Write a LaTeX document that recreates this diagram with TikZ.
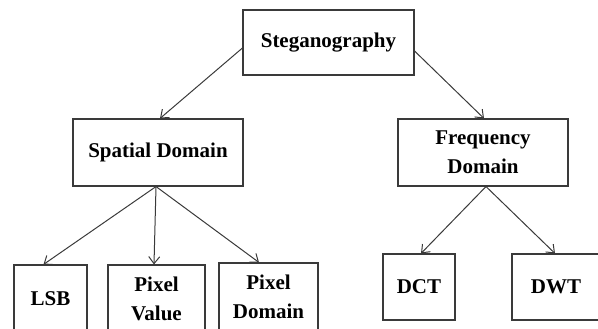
\documentclass[tikz,border=0pt]{standalone}
\usepackage{fontspec}
\setmainfont{Liberation Serif}
\usetikzlibrary{arrows.meta}
\definecolor{linegray}{HTML}{3A3A3A}
\tikzset{
  box/.style={draw=linegray, line width=1.1pt, rectangle, inner sep=0pt, align=center,
    font=\bfseries\fontsize{21}{29}\selectfont, text=black},
  link/.style={draw=linegray, line width=1pt, -{Straight Barb[length=7pt,width=11pt]}}
}
\begin{document}
\begin{tikzpicture}[x=1pt,y=-1pt]
\useasboundingbox (0,0) rectangle (598,329);
\clip (0,0) rectangle (598,329);
\node[box, minimum width=171pt, minimum height=65pt] (steg) at (328.5,42.5) {Steganography};
\node[box, minimum width=170pt, minimum height=67pt] (spatial) at (158,152.5) {Spatial Domain};
\node[box, minimum width=170pt, minimum height=67pt] (freq) at (483,152.5) {Frequency\\Domain};
\node[box, minimum width=73pt, minimum height=67pt] (lsb) at (50.5,298.5) {LSB};
\node[box, minimum width=97pt, minimum height=67pt] (pv) at (156.5,298.5) {Pixel\\Value};
\node[box, minimum width=99pt, minimum height=67pt] (pd) at (268.5,296.5) {Pixel\\Domain};
\node[box, minimum width=72pt, minimum height=66pt] (dct) at (419,287) {DCT};
\node[box, minimum width=88pt, minimum height=66pt] (dwt) at (556,287) {DWT};
\draw[link] ([yshift=-5.5pt]steg.west) -- ([xshift=2pt]spatial.north);
\draw[link] ([yshift=-8.5pt]steg.east) -- ([xshift=1pt]freq.north);
\draw[link] ([xshift=-2pt]spatial.south) -- ([xshift=-7pt]lsb.north);
\draw[link] ([xshift=-2pt]spatial.south) -- ([xshift=-2.5pt]pv.north);
\draw[link] ([xshift=-2pt]spatial.south) -- ([xshift=-9.5pt]pd.north);
\draw[link] ([xshift=3pt]freq.south) -- ([xshift=2pt]dct.north);
\draw[link] ([xshift=3pt]freq.south) -- ([xshift=-1pt]dwt.north);
\end{tikzpicture}
\end{document}
